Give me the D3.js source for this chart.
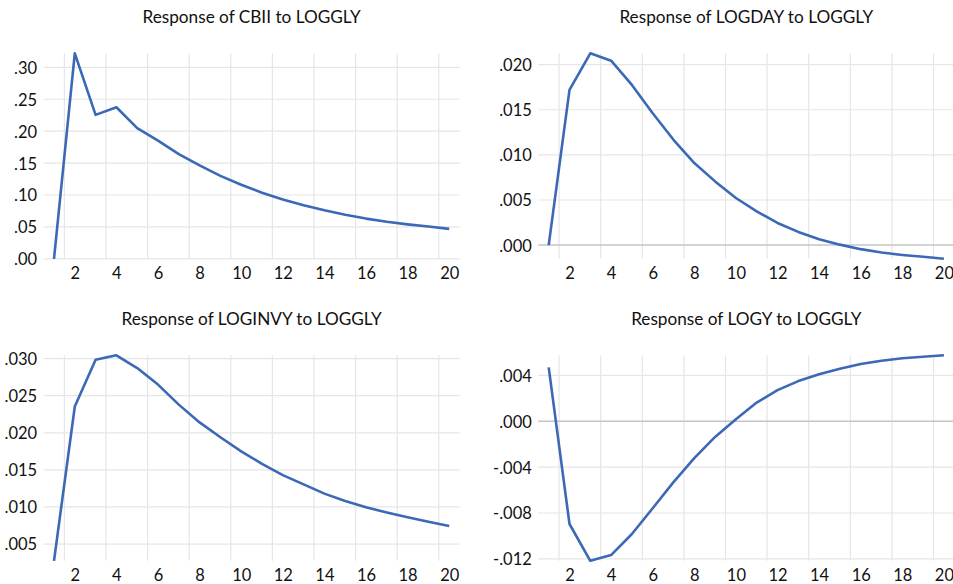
<!DOCTYPE html>
<html>
<head>
<meta charset="utf-8">
<script src="https://cdn.jsdelivr.net/npm/d3@7"></script>
<style>
  body { margin: 0; background: #fff; }
  svg text { font-family: Lato, "Open Sans", sans-serif; fill: #111; }
</style>
</head>
<body>
<div id="chart"></div>
<script>
var periods = d3.range(1, 21);
var xTicks = [2, 4, 6, 8, 10, 12, 14, 16, 18, 20];
var xGrid = [1.5, 3.5, 5.5, 7.5, 9.5, 11.5, 13.5, 15.5, 17.5, 19.5];

var titles = ["Response of CBII to LOGGLY", "Response of LOGDAY to LOGGLY",
              "Response of LOGINVY to LOGGLY", "Response of LOGY to LOGGLY"];

var cbii = [0.000, 0.322, 0.2255, 0.2375, 0.2047, 0.1853, 0.1640, 0.1463, 0.1300, 0.1160,
            0.1035, 0.0930, 0.0840, 0.0760, 0.0690, 0.0630, 0.0580, 0.0540, 0.0505, 0.0469];
var logday = [0.0000, 0.0172, 0.02126, 0.02044, 0.01775, 0.01462, 0.01167, 0.00909, 0.00706, 0.00522,
              0.00374, 0.00245, 0.00146, 0.00065, 0.00005, -0.00045, -0.00083, -0.00109, -0.00130, -0.00152];
var loginvy = [0.00274, 0.02355, 0.02986, 0.03045, 0.02873, 0.02650, 0.02380, 0.02140, 0.01940, 0.01750,
               0.01580, 0.01430, 0.01305, 0.01180, 0.01080, 0.00995, 0.00925, 0.00860, 0.00800, 0.00743];
var logy = [0.00470, -0.00896, -0.01217, -0.01167, -0.00983, -0.00759, -0.00531, -0.00321, -0.00137, 0.00018,
            0.00163, 0.00271, 0.00350, 0.00410, 0.00458, 0.00499, 0.00528, 0.00549, 0.00563, 0.00575];

var yTicks1 = [0, 0.05, 0.10, 0.15, 0.20, 0.25, 0.30];
var yTicks2 = [0, 0.005, 0.010, 0.015, 0.020];
var yTicks3 = [0.005, 0.010, 0.015, 0.020, 0.025, 0.030];
var yTicks4 = [-0.012, -0.008, -0.004, 0, 0.004];

var panels = [
    { title: titles[0], data: cbii, ticks: yTicks1, dec: 2, left: 43.6, top: 53.3 },
    { title: titles[1], data: logday, ticks: yTicks2, dec: 3, left: 538.3, top: 53.3 },
    { title: titles[2], data: loginvy, ticks: yTicks3, dec: 3, left: 43.6, top: 355.3 },
    { title: titles[3], data: logy, ticks: yTicks4, dec: 3, left: 538.3, top: 355.3 }
];

var width = 953, height = 584;
var pw = 416, ph = 205.5;

var svg = d3.select("#chart").append("svg")
    .attr("width", width)
    .attr("height", height);

panels.forEach(function (p) {
    var g = svg.append("g").attr("transform", "translate(" + p.left + "," + p.top + ")");

    var x = d3.scaleLinear().domain([0.5, 20.5]).range([0, pw]);
    var y = d3.scaleLinear().domain(d3.extent(p.data)).range([ph, 0]);

    // eviews style: ".30", "-.004"
    var fmt = function (v) {
        return d3.format("." + p.dec + "f")(v).replace("\u2212", "-").replace(/^(-?)0\./, "$1.");
    };

    // grid
    g.selectAll(".vgrid")
        .data(xGrid)
        .enter().append("line")
        .attr("class", "vgrid")
        .attr("x1", function (d) { return x(d); })
        .attr("x2", function (d) { return x(d); })
        .attr("y1", 0).attr("y2", ph)
        .style("stroke", "#e6e6e6").style("stroke-width", 1.2);

    g.selectAll(".hgrid")
        .data(p.ticks)
        .enter().append("line")
        .attr("class", "hgrid")
        .attr("x1", 0).attr("x2", pw)
        .attr("y1", function (d) { return y(d); })
        .attr("y2", function (d) { return y(d); })
        .style("stroke", function (d) { return (d === 0 && y.domain()[0] < 0) ? "#c4c4c4" : "#e6e6e6"; })
        .style("stroke-width", function (d) { return (d === 0 && y.domain()[0] < 0) ? 1.5 : 1.2; });

    // y axis labels
    var ya = d3.axisLeft(y).tickValues(p.ticks).tickFormat(fmt).tickSize(0).tickPadding(6.5);
    var yg = g.append("g").call(ya);
    yg.select(".domain").remove();
    yg.selectAll("text").style("font-size", "16.5px").attr("dy", "0.36em");

    // x axis labels
    var xa = d3.axisBottom(x).tickValues(xTicks).tickFormat(d3.format("d")).tickSize(0).tickPadding(8);
    var xg = g.append("g").attr("transform", "translate(0," + ph + ")").call(xa);
    xg.select(".domain").remove();
    xg.selectAll("text").style("font-size", "16.5px");

    // line
    var line = d3.line()
        .x(function (d, i) { return x(periods[i]); })
        .y(function (d) { return y(d); });

    g.append("path")
        .datum(p.data)
        .attr("d", line)
        .style("fill", "none")
        .style("stroke", "#3b69b6")
        .style("stroke-width", 2.6)
        .style("stroke-linejoin", "round");

    // title
    g.append("text")
        .attr("x", pw / 2)
        .attr("y", -30)
        .attr("text-anchor", "middle")
        .style("font-size", "17.2px")
        .text(p.title);
});
</script>
</body>
</html>
